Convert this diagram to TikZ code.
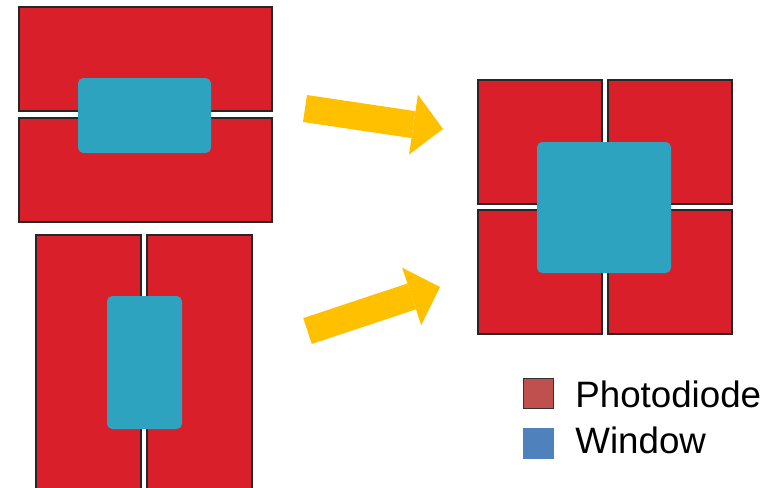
\documentclass[tikz,border=0pt]{standalone}
\usepackage{fontspec}
\setmainfont{Liberation Sans}
\usetikzlibrary{arrows.meta}
\definecolor{padred}{HTML}{D9202A}
\definecolor{wincyan}{HTML}{2DA3BF}
\definecolor{arrowyellow}{HTML}{FFC000}
\definecolor{keyred}{HTML}{C0504D}
\definecolor{keyblue}{HTML}{4F81BD}
\tikzset{
  pad/.style={fill=padred, draw=black!85, line width=0.65pt},
  window/.style={fill=wincyan, rounded corners=3pt},
  bigarrow/.style={arrowyellow, line width=15.5pt,
    -{Triangle[length=17pt,width=34.5pt,line width=0pt]}},
  keybox/.style={minimum size=17.5pt, inner sep=0pt, line width=0.6pt},
  keytext/.style={anchor=base west, inner sep=0pt, font=\fontsize{20.9}{24}\selectfont}
}
\begin{document}
\begin{tikzpicture}[x=0.02cm,y=-0.02cm]
  \useasboundingbox (0,0) rectangle (767,487);
  \clip (0,0) rectangle (767,487);
  % horizontal split pair
  \draw[pad] (19,7) rectangle (272,111);
  \draw[pad] (19,118) rectangle (272,222);
  \fill[window] (78,78) rectangle (211,153);
  % vertical split pair
  \draw[pad] (36,235) rectangle (141,495);
  \draw[pad] (147,235) rectangle (252,495);
  \fill[window] (107,296) rectangle (182,429);
  % quadrant
  \draw[pad] (478,80) rectangle (602,204);
  \draw[pad] (608,80) rectangle (732,204);
  \draw[pad] (478,210) rectangle (602,334);
  \draw[pad] (608,210) rectangle (732,334);
  \fill[window] (537,142) rectangle (671,273);
  % arrows
  \coordinate (a1) at (305,108.5);
  \coordinate (b1) at (443,129);
  \coordinate (a2) at (307.5,331);
  \coordinate (b2) at (440,287);
  \draw[bigarrow] (a1) -- (b1);
  \draw[bigarrow] (a2) -- (b2);
  % legend
  \node[keybox, fill=keyred, draw=black!80] (kpd) at (538.5,393.5) {};
  \node[keybox, fill=keyblue] (kwin) at (538.5,443.5) {};
  \node[keytext] (tpd) at (575,407) {Photodiode};
  \node[keytext] (twin) at (575,453) {Window};
\end{tikzpicture}
\end{document}
